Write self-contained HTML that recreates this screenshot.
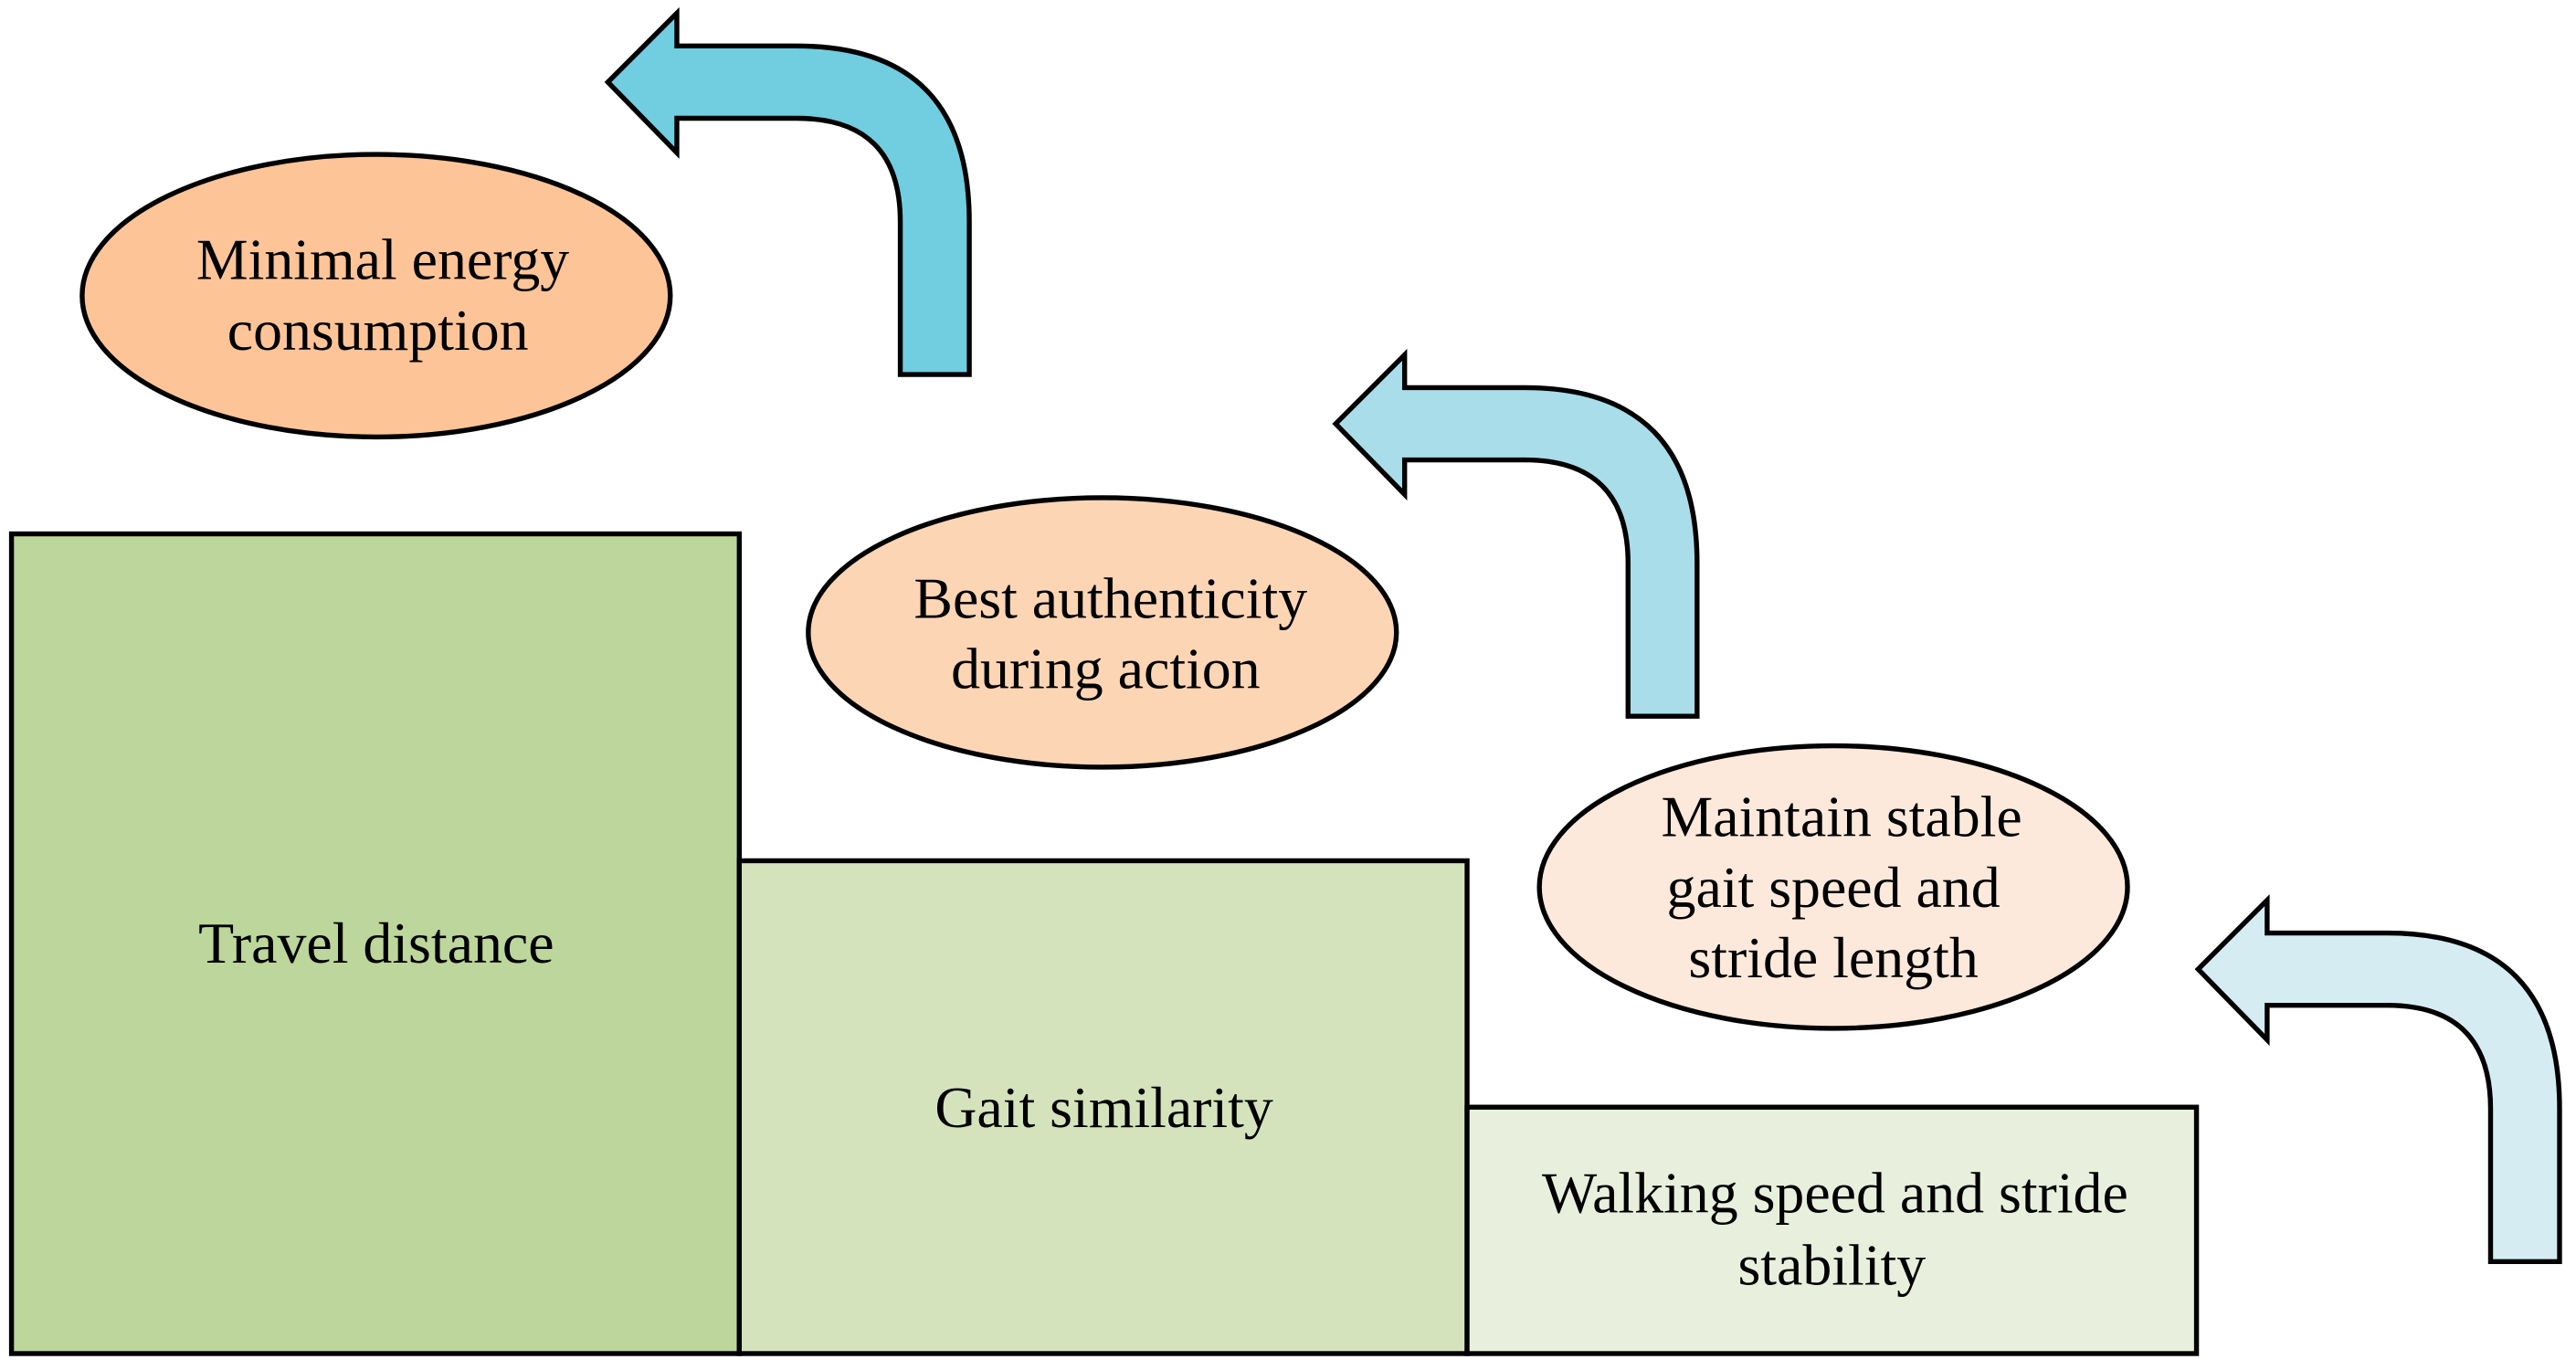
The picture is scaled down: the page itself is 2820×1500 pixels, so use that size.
<!DOCTYPE html>
<html><head><meta charset="utf-8"><style>
html,body{margin:0;padding:0;background:#fff;}
svg{display:block;}
text{font-family:"Liberation Serif",serif;font-size:35.5px;fill:#000;text-anchor:middle;}
</style></head><body>
<svg width="2820" height="1500" viewBox="0 0 1568 834" preserveAspectRatio="none" xmlns="http://www.w3.org/2000/svg">
<g stroke="#000" stroke-width="3" stroke-linejoin="miter">
<rect x="7" y="325" width="443" height="499" fill="#bdd69b"/>
<rect x="450" y="524" width="443" height="300" fill="#d5e3bd"/>
<rect x="893" y="674" width="444" height="150" fill="#e8f0dd"/>
<ellipse cx="229" cy="180" rx="179" ry="86" fill="#fdc498"/>
<ellipse cx="671" cy="385" rx="179" ry="82" fill="#fcd5b5"/>
<ellipse cx="1116" cy="540" rx="179" ry="86" fill="#fde9db"/>
<path d="M548,228 L548,135 Q548,72 485,72 L412,72 L412,93 L370,50 L412,8 L412,28 L485,28 Q590,28 590,135 L590,228 Z" fill="#71cde0"/>
<path d="M548,228 L548,135 Q548,72 485,72 L412,72 L412,93 L370,50 L412,8 L412,28 L485,28 Q590,28 590,135 L590,228 Z" fill="#a9dde9" transform="translate(443,208)"/>
<path d="M548,228 L548,135 Q548,72 485,72 L412,72 L412,93 L370,50 L412,8 L412,28 L485,28 Q590,28 590,135 L590,228 Z" fill="#d5edf2" transform="translate(968,540)"/>
</g>
<text x="233" y="170">Minimal energy</text>
<text x="230" y="213">consumption</text>
<text x="676" y="376">Best authenticity</text>
<text x="673" y="419">during action</text>
<text x="1121" y="509">Maintain stable</text>
<text x="1116" y="552">gait speed and</text>
<text x="1116" y="595">stride length</text>
<text x="229" y="586">Travel distance</text>
<text x="672" y="686">Gait similarity</text>
<text x="1117" y="738">Walking speed and stride</text>
<text x="1115" y="782">stability</text>
</svg>
</body></html>
